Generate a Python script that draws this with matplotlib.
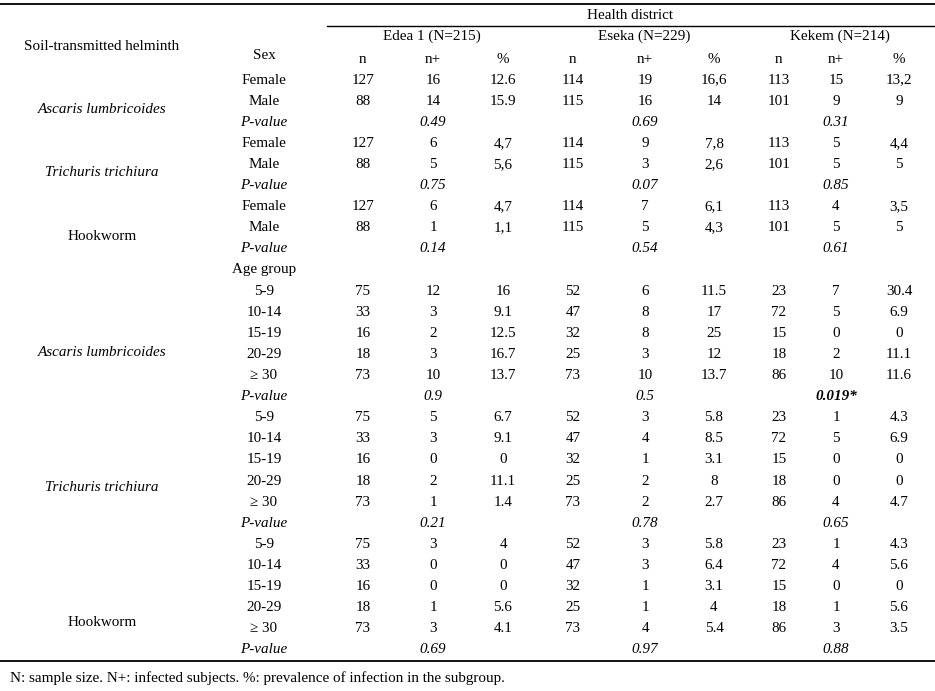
import matplotlib.pyplot as plt

#######################################################
### Table content

districts = ["Edea 1 (N=215)", "Eseka (N=229)", "Kekem (N=214)"]
sub_cols = ["n", "n+", "%"]
sex_groups = ["Female", "Male"]
age_groups = ["5-9", "10-14", "15-19", "20-29", "\u2265 30"]

# n per district
sex_n = [[127, 88], [114, 115], [113, 101]]
age_n = [[75, 33, 16, 18, 73], [52, 47, 32, 25, 73], [23, 72, 15, 18, 86]]

# by sex
ascaris_sex_pos = [[16, 14], [19, 16], [15, 9]]
ascaris_sex_pct = [["12.6", "15.9"], ["16,6", "14"], ["13,2", "9"]]
ascaris_sex_p = ["0.49", "0.69", "0.31"]

trichuris_sex_pos = [[6, 5], [9, 3], [5, 5]]
trichuris_sex_pct = [["4,7", "5,6"], ["7,8", "2,6"], ["4,4", "5"]]
trichuris_sex_p = ["0.75", "0.07", "0.85"]

hook_sex_pos = [[6, 1], [7, 5], [4, 5]]
hook_sex_pct = [["4,7", "1,1"], ["6,1", "4,3"], ["3,5", "5"]]
hook_sex_p = ["0.14", "0.54", "0.61"]

# by age group
ascaris_age_pos = [[12, 3, 2, 3, 10], [6, 8, 8, 3, 10], [7, 5, 0, 2, 10]]
ascaris_age_pct = [["16", "9.1", "12.5", "16.7", "13.7"],
                   ["11.5", "17", "25", "12", "13.7"],
                   ["30.4", "6.9", "0", "11.1", "11.6"]]
ascaris_age_p = ["0.9", "0.5", "0.019*"]

trichuris_age_pos = [[5, 3, 0, 2, 1], [3, 4, 1, 2, 2], [1, 5, 0, 0, 4]]
trichuris_age_pct = [["6.7", "9.1", "0", "11.1", "1.4"],
                     ["5.8", "8.5", "3.1", "8", "2.7"],
                     ["4.3", "6.9", "0", "0", "4.7"]]
trichuris_age_p = ["0.21", "0.78", "0.65"]

hook_age_pos = [[3, 0, 0, 1, 3], [3, 3, 1, 1, 4], [1, 4, 0, 1, 3]]
hook_age_pct = [["4", "0", "0", "5.6", "4.1"],
                ["5.8", "6.4", "3.1", "4", "5.4"],
                ["4.3", "5.6", "0", "5.6", "3.5"]]
hook_age_p = ["0.69", "0.97", "0.88"]

footnote = "N: sample size. N+: infected subjects. %: prevalence of infection in the subgroup."

#######################################################
### Layout (pixel coordinates)

FONT = "Liberation Serif"
FS = 10.9

label_x = 102
group_x = 264
col_x = [[363, 433, 503], [573, 645, 714], [779, 836, 899]]
district_x = [432, 644, 840]

row0 = 80
step = 21.11

fig = plt.figure(figsize=(9.35, 6.91), dpi=100)
ax = fig.add_axes([0, 0, 1, 1])
ax.set_xlim(0, 935)
ax.set_ylim(691, 0)
ax.axis("off")


def txt(x, y, s, **kw):
    ax.text(x, y, s, ha="center", va="center", family=FONT,
            fontsize=FS, **kw)


# header
ax.plot([0, 935], [4, 4], color="black", lw=1.3)
ax.plot([327, 935], [26, 26], color="black", lw=1.0)
ax.plot([0, 935], [661, 661], color="black", lw=1.3)

txt(630, 15, "Health district")
txt(label_x, 46, "Soil-transmitted helminth")
txt(group_x, 55, "Sex")
for d in range(3):
    txt(district_x[d], 36, districts[d])
    for c in range(3):
        txt(col_x[d][c], 59, sub_cols[c])


def block(start_row, groups, n_vals, pos, pct, pvals):
    for g, name in enumerate(groups):
        y = row0 + (start_row + g) * step
        txt(group_x, y, name)
        for d in range(3):
            txt(col_x[d][0], y, str(n_vals[d][g]))
            txt(col_x[d][1], y, str(pos[d][g]))
            txt(col_x[d][2], y, pct[d][g])
    y = row0 + (start_row + len(groups)) * step
    txt(group_x, y, "P-value", style="italic")
    for d in range(3):
        weight = "bold" if pvals[d].endswith("*") else "normal"
        txt(col_x[d][1], y, pvals[d], style="italic", weight=weight)


block(0, sex_groups, sex_n, ascaris_sex_pos, ascaris_sex_pct, ascaris_sex_p)
block(3, sex_groups, sex_n, trichuris_sex_pos, trichuris_sex_pct, trichuris_sex_p)
block(6, sex_groups, sex_n, hook_sex_pos, hook_sex_pct, hook_sex_p)

txt(group_x, row0 + 9 * step, "Age group")

block(10, age_groups, age_n, ascaris_age_pos, ascaris_age_pct, ascaris_age_p)
block(16, age_groups, age_n, trichuris_age_pos, trichuris_age_pct, trichuris_age_p)
block(22, age_groups, age_n, hook_age_pos, hook_age_pct, hook_age_p)

# helminth labels
txt(label_x, 109, "Ascaris lumbricoides", style="italic")
txt(label_x, 172, "Trichuris trichiura", style="italic")
txt(label_x, 236, "Hookworm")
txt(label_x, 352, "Ascaris lumbricoides", style="italic")
txt(label_x, 487, "Trichuris trichiura", style="italic")
txt(label_x, 622, "Hookworm")

ax.text(10, 678, footnote, ha="left", va="center", family=FONT, fontsize=FS)

fig.savefig("out.png", dpi=100)
